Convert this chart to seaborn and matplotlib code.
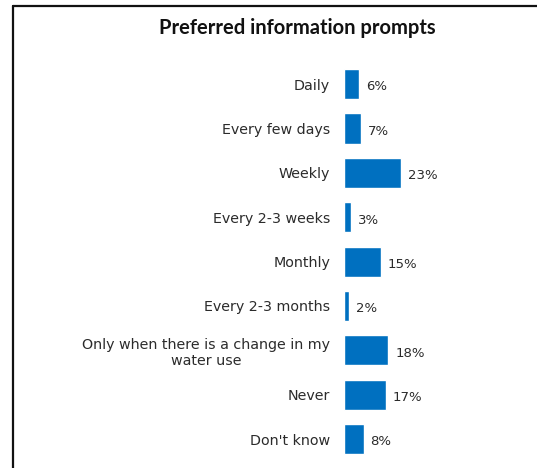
import matplotlib
matplotlib.use("Agg")
import matplotlib.pyplot as plt
from matplotlib.lines import Line2D
import seaborn as sns
import pandas as pd

categories = [
    "Daily",
    "Every few days",
    "Weekly",
    "Every 2-3 weeks",
    "Monthly",
    "Every 2-3 months",
    "Only when there is a change in my\nwater use",
    "Never",
    "Don't know",
]
values = [6, 7, 23, 3, 15, 2, 18, 17, 8]
value_labels = ["6%", "7%", "23%", "3%", "15%", "2%", "18%", "17%", "8%"]

df = pd.DataFrame({"category": categories, "value": values})

sns.set_theme(style="white")
plt.rcParams["font.family"] = ["DejaVu Sans"]

fig = plt.figure(figsize=(5.37, 4.68), dpi=100)
ax = fig.add_axes([0.6406, 0.0145, 0.229, 0.853])

sns.barplot(data=df, x="value", y="category", orient="h", color="#0070C0",
            saturation=1, width=0.68, ax=ax)

ax.set_xlim(0, 50)
ax.set_ylim(len(categories) - 0.5, -0.5)
ax.set_xlabel("")
ax.set_ylabel("")
ax.set_xticks([])
for s in ax.spines.values():
    s.set_visible(False)
ax.tick_params(axis="y", length=0, pad=10, labelsize=10.3, labelcolor="#2b2b2b")
for lbl in ax.get_yticklabels():
    lbl.set_multialignment("center")

for i, (v, t) in enumerate(zip(values, value_labels)):
    ax.annotate(t, xy=(v, i), xytext=(5, -2), textcoords="offset points",
                ha="left", va="center", fontsize=9.5, color="#2b2b2b")

fig.text(297 / 537, 1 - 28 / 468, "Preferred information prompts",
         ha="center", va="center", fontsize=14.5, fontweight="bold",
         color="#111111", family=["Lato", "DejaVu Sans"])

# outer frame (left and top edges)
fig.add_artist(Line2D([12.5 / 537, 12.5 / 537], [0, 1 - 5.5 / 468],
                      transform=fig.transFigure, color="#111111", lw=1.6))
fig.add_artist(Line2D([12.5 / 537, 1], [1 - 5.5 / 468, 1 - 5.5 / 468],
                      transform=fig.transFigure, color="#111111", lw=1.6))

fig.savefig("out.png", dpi=100, facecolor="white")
